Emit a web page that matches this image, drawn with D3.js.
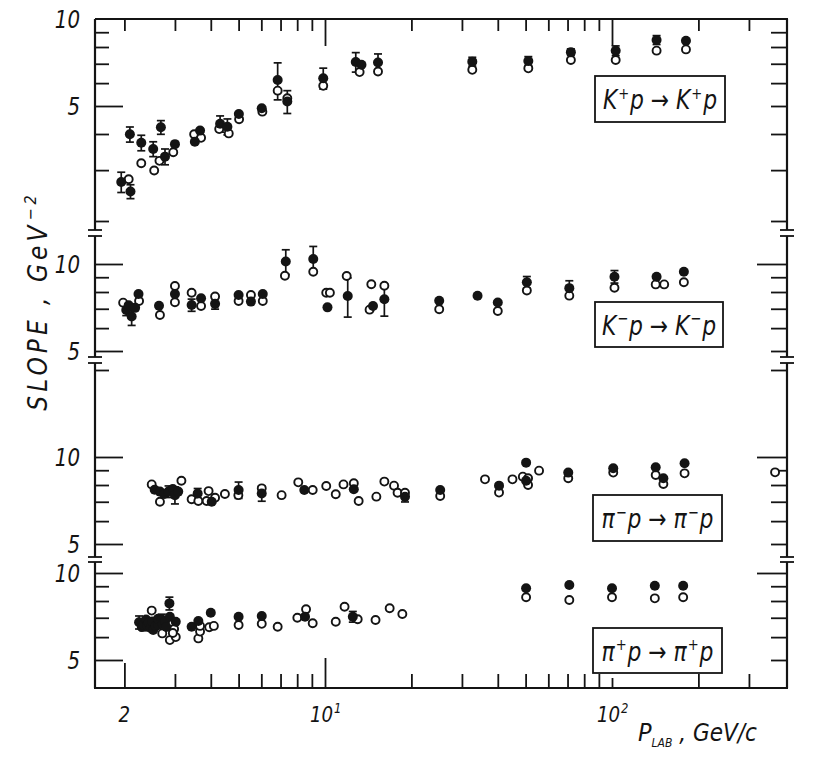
<!DOCTYPE html>
<html><head><meta charset="utf-8">
<script src="https://cdn.jsdelivr.net/npm/d3@7"></script>
<style>body{margin:0;background:#fff}</style>
</head><body>
<svg id="c" width="817" height="759"></svg>
<script>
// ---------- DATA: [p_lab (GeV/c), slope (GeV^-2), error] ----------
const kPlusFilled = [[1.95,2.73,0.22],[2.09,3.99,0.24],[2.10,2.53,0.14],[2.29,3.73,0.23],[2.52,3.55,0.21],[2.68,4.22,0.23],[2.77,3.34,0.21],[3.0,3.69,0],[3.52,3.76,0],[3.67,4.11,0],[4.31,4.34,0.28],[4.57,4.24,0.27],[5.01,4.69,0],[6.02,4.91,0],[6.84,6.15,0.9],[7.39,5.18,0.47],[9.86,6.24,0.52],[12.8,7.10,0.55],[13.4,6.95,0],[15.3,7.07,0.5],[32.6,7.12,0.25],[51.1,7.16,0.25],[71.9,7.68,0.2],[103,7.77,0.3],[143,8.46,0.3],[181,8.41,0]];
const kPlusOpen = [[2.07,2.79],[2.29,3.17],[2.54,2.99],[2.65,3.23],[2.96,3.46],[3.50,3.99],[3.70,3.88],[4.28,4.16],[4.62,4.02],[5.02,4.50],[6.05,4.78],[6.84,5.65],[7.39,5.32],[9.86,5.87],[13.2,6.55],[15.3,6.58],[32.6,6.67],[51.1,6.75],[71.9,7.21],[103,7.21],[143,7.77],[181,7.85]];
const kMinusFilled = [[2.03,6.93,0.3],[2.12,6.58,0.45],[2.07,7.20,0],[2.18,7.05,0],[2.24,7.87,0],[2.64,7.17,0],[3.0,7.87,0],[3.43,7.21,0.35],[3.70,7.61,0],[4.14,7.28,0.3],[5.0,7.81,0],[5.52,7.41,0],[6.07,7.87,0],[7.30,10.2,1.0],[9.1,10.4,1.1],[10.2,7.08,0],[12.0,7.75,1.2],[14.7,7.16,0],[16.1,7.55,0.95],[25.0,7.46,0],[34.0,7.77,0],[40.0,7.36,0],[50.5,8.65,0.4],[71.0,8.25,0.5],[102,9.04,0.45],[143,9.04,0],[178,9.40,0]];
const kMinusOpen = [[1.98,7.35],[2.25,7.45],[2.66,6.66],[3.0,8.39],[3.0,7.37],[3.43,7.95],[3.70,7.16],[4.14,7.72],[5.0,7.45],[5.52,7.81],[6.07,7.45],[7.25,9.11],[9.1,9.40],[10.1,7.95],[10.4,7.95],[11.9,9.09],[14.5,8.51],[14.3,6.95],[16.1,8.41],[25.0,6.97],[40.0,6.88],[50.5,8.10],[71.0,7.77],[102,8.28],[142,8.50],[152,8.50],[178,8.65]];
const piMinusFilled = [[2.55,7.70,0],[2.66,7.59,0],[2.75,7.45,0],[2.85,7.59,0.35],[2.95,7.75,0],[3.0,7.38,0.5],[3.08,7.59,0],[3.60,7.48,0.3],[4.03,7.00,0],[5.0,7.69,0.5],[6.02,7.48,0.45],[8.47,7.69,0],[12.6,7.73,0],[19.0,7.29,0.3],[25.2,7.69,0],[40.4,7.96,0],[50.2,9.56,0],[50.2,8.28,0],[70.4,8.83,0],[101,9.14,0],[142,9.21,0],[151,8.44,0],[179,9.51,0]];
const piMinusOpen = [[2.49,8.04],[2.66,7.00],[3.16,8.28],[3.43,7.14],[3.62,7.04],[3.93,7.62],[3.87,7.04],[4.14,7.23],[4.48,7.45],[4.99,7.38],[6.02,7.79],[7.06,7.38],[8.07,8.17],[9.06,7.69],[10.1,7.94],[10.9,7.43],[11.6,8.04],[12.6,8.11],[13.1,7.04],[15.1,7.29],[16.1,8.22],[17.4,7.96],[17.9,7.52],[19.0,7.52],[25.2,7.33],[36.1,8.37],[40.4,7.53],[45.0,8.37],[48.9,8.55],[51.0,8.44],[51.0,8.0],[55.7,8.97],[70.4,8.44],[101,8.83],[142,8.66],[151,8.06],[179,8.78],[370,8.85]];
const piPlusFilled = [[2.25,6.75,0.35],[2.30,6.50,0],[2.33,6.61,0.3],[2.38,6.90,0],[2.40,6.60,0],[2.43,6.73,0],[2.47,6.45,0],[2.50,6.80,0],[2.52,6.35,0],[2.57,6.55,0],[2.62,6.61,0],[2.62,6.95,0],[2.70,6.90,0.3],[2.72,6.65,0],[2.77,6.78,0],[2.80,6.50,0],[2.87,7.85,0.4],[2.88,7.06,0],[3.02,6.78,0],[3.43,6.52,0],[3.62,6.82,0],[4.0,7.29,0],[5.0,7.06,0],[6.02,7.10,0],[8.52,7.06,0],[12.5,7.06,0.3],[50.2,8.85,0],[71,9.09,0],[100,8.85,0],[141,9.04,0],[177,9.04,0]];
const piPlusOpen = [[2.49,7.41],[2.71,6.18],[2.88,5.86],[2.98,6.40],[3.02,6.00],[2.95,6.20],[3.62,5.94],[3.67,6.27],[3.67,6.56],[3.95,6.49],[4.10,6.56],[5.0,6.61],[6.02,6.67],[6.84,6.52],[8.01,7.00],[8.59,7.49],[9.06,6.70],[10.9,6.78],[11.7,7.64],[13.0,6.92],[15.0,6.88],[16.8,7.55],[18.6,7.21],[50.2,8.24],[71,8.06],[100,8.24],[141,8.17],[177,8.24]];

const reactionLabels = ["K^+p → K^+p","K^-p → K^-p","π^-p → π^-p","π^+p → π^+p"];
const yTickLabels = ["10","5"];
const xTickLabels = [["2",""],["10","1"],["10","2"]];
const xTickValues = [2,10,100];
const yTitle = ["SLOPE , GeV","-2"];
const xTitle = ["P","LAB"," , GeV/c"];

// ---------- LAYOUT ----------
const INK = "#141414";
const FONT = "'DejaVu Sans Condensed','DejaVu Sans',sans-serif";
const L = 95, R = 787, T = 19, B = 688;
const svg = d3.select("#c");
const x = d3.scaleLog().domain([10,100]).range([325,612]);

const panels = [
  {filled:kPlusFilled, open:kPlusOpen, top:19, bottom:230, y10:19, y5:106, ticks:[2,3,4,6,7,8,9], longL:[5], longR:[], box:[595,76,130,46]},
  {filled:kMinusFilled, open:kMinusOpen, top:236, bottom:357, y10:264, y5:351, ticks:[6,7,8,9], longL:[5,10], longR:[10], box:[595,302,128,45]},
  {filled:piMinusFilled, open:piMinusOpen, top:363, bottom:557, y10:457, y5:544, ticks:[6,7,8,9,20], longL:[5,10], longR:[10], box:[593,495,129,46]},
  {filled:piPlusFilled, open:piPlusOpen, top:562, bottom:688, y10:573, y5:660, ticks:[6,7,8,9], longL:[5,10], longR:[10], box:[593,628,129,45]}
];

function supText(sel, str, size){
  const parts = [];
  for(let i=0;i<str.length;i++){
    if(str[i]==='^'){ parts.push({t:str[i+1], sup:true}); i++; }
    else parts.push({t:str[i], sup:false});
  }
  const merged=[];
  parts.forEach(p=>{ const l=merged[merged.length-1]; if(l&&!l.sup&&!p.sup) l.t+=p.t; else merged.push({...p}); });
  let up = false;
  merged.forEach(p=>{
    const ts = sel.append("tspan").text(p.sup && p.t==='-' ? '−' : p.t);
    if(p.sup){ ts.attr("font-size", size*0.6).attr("dy",-size*0.38).attr("dx",1); up = true; }
    else if(up){ ts.attr("dy",size*0.38).attr("dx",1); up = false; }
  });
}

// frame top / bottom
svg.append("line").attr("x1",L).attr("x2",R+1).attr("y1",T).attr("y2",T).attr("stroke",INK).attr("stroke-width",2.2);
svg.append("line").attr("x1",L-1).attr("x2",R+1).attr("y1",B).attr("y2",B).attr("stroke",INK).attr("stroke-width",2.2);

function xAxis(gen, y, vals, len){
  const g = svg.append("g").attr("transform",`translate(0,${y})`)
    .call(gen(x).tickValues(vals).tickSize(len).tickFormat(""));
  g.select(".domain").remove();
  g.selectAll("line").attr("stroke",INK).attr("stroke-width",1.8);
}
xAxis(d3.axisBottom, T, [2,3,4,5,6,7,8,9,20,30,40,50,60,70,80,90,200,300], 12);
xAxis(d3.axisBottom, T, [10,100], 27);
xAxis(d3.axisTop, B, [3,4,5,6,7,8,9,20,30,40,50,60,70,80,90,200,300], 14);
xAxis(d3.axisTop, B, [100], 10);
xAxis(d3.axisTop, B, [2], 25);
xAxis(d3.axisTop, B, [10], 30);

// x labels
const xl = svg.append("g").attr("font-family",FONT).attr("font-style","italic").attr("fill",INK).attr("font-size",22);
xTickValues.forEach((v,i)=>{
  const [base, sup] = xTickLabels[i];
  const t = xl.append("text")
    .attr("transform", `translate(${i===0 ? x(v) : x(v)-15},722) scale(0.92,1)`)
    .attr("text-anchor", i===0 ? "middle" : "start");
  t.append("tspan").text(base);
  if(sup) t.append("tspan").attr("font-size",14).attr("dy",-9).attr("dx",1).text(sup);
});
const xt = xl.append("text").attr("x",638).attr("y",741);
xt.append("tspan").attr("font-size",25).text(xTitle[0]);
xt.append("tspan").attr("font-size",12).attr("dy",6).text(xTitle[1]);
xt.append("tspan").attr("font-size",24).attr("dy",-6).text(xTitle[2]);

// y title
const yt = svg.append("text").attr("transform","translate(47,301) rotate(-90)")
  .attr("text-anchor","middle").attr("font-family",FONT).attr("font-style","italic")
  .attr("font-size",26).attr("fill",INK).attr("letter-spacing",4);
yt.append("tspan").text(yTitle[0]);
yt.append("tspan").attr("font-size",16).attr("dy",-11).attr("dx",1).text(yTitle[1].replace('-','−'));

panels.forEach((p,pi)=>{
  const y = d3.scaleLog().domain([5,10]).range([p.y5,p.y10]);
  const g = svg.append("g");
  [L,R].forEach(ax=>{
    g.append("line").attr("x1",ax).attr("x2",ax).attr("y1",p.top).attr("y2",p.bottom).attr("stroke",INK).attr("stroke-width",2.2);
    if(pi>0) g.append("line").attr("x1",ax-7).attr("x2",ax+7).attr("y1",p.top).attr("y2",p.top).attr("stroke",INK).attr("stroke-width",1.8);
    if(pi<3) g.append("line").attr("x1",ax-7).attr("x2",ax+7).attr("y1",p.bottom).attr("y2",p.bottom).attr("stroke",INK).attr("stroke-width",1.8);
  });
  function yAxis(gen, at, vals, len){
    const a = g.append("g").attr("transform",`translate(${at},0)`)
      .call(gen(y).tickValues(vals).tickSize(len).tickFormat(""));
    a.select(".domain").remove();
    a.selectAll("line").attr("stroke",INK).attr("stroke-width",1.8);
  }
  const shortR = p.ticks.concat([5,10].filter(v=>!p.longR.includes(v) && !(pi===0&&v===10)));
  yAxis(d3.axisRight, L, p.ticks, 14);
  yAxis(d3.axisRight, L, p.longL, 28);
  yAxis(d3.axisLeft, R, shortR, 16);
  yAxis(d3.axisLeft, R, p.longR, 30);

  const tl = g.append("g").attr("font-family",FONT).attr("font-style","italic").attr("font-size",25).attr("fill",INK).attr("text-anchor","end");
  [10,5].forEach((v,i)=>{
    tl.append("text").attr("transform",`translate(80,${y(v)+9}) scale(0.88,1)`).text(yTickLabels[i]);
  });

  const eb = g.append("g").attr("stroke",INK).attr("stroke-width",1.7);
  p.filled.filter(d=>d[2]>0).forEach(d=>{
    const cx = x(d[0]), y1 = y(d[1]+d[2]), y2 = y(d[1]-d[2]);
    eb.append("line").attr("x1",cx).attr("x2",cx).attr("y1",y1).attr("y2",y2);
    eb.append("line").attr("x1",cx-4).attr("x2",cx+4).attr("y1",y1).attr("y2",y1);
    eb.append("line").attr("x1",cx-4).attr("x2",cx+4).attr("y1",y2).attr("y2",y2);
  });
  g.append("g").selectAll("circle").data(p.open).join("circle")
    .attr("cx",d=>x(d[0])).attr("cy",d=>y(d[1])).attr("r",4)
    .attr("fill","#fff").attr("stroke",INK).attr("stroke-width",1.9);
  g.append("g").selectAll("circle").data(p.filled).join("circle")
    .attr("cx",d=>x(d[0])).attr("cy",d=>y(d[1])).attr("r",5).attr("fill",INK);

  const [bx,by,bw,bh] = p.box;
  g.append("rect").attr("x",bx).attr("y",by).attr("width",bw).attr("height",bh)
    .attr("fill","#fff").attr("stroke",INK).attr("stroke-width",1.8);
  const t = g.append("text").attr("transform",`translate(${bx+bw/2},${by+bh/2+10}) scale(0.9,1)`)
    .attr("text-anchor","middle")
    .attr("font-family",FONT).attr("font-style","italic").attr("font-size",27).attr("fill",INK);
  supText(t, reactionLabels[pi], 27);
});
</script>
</body></html>
